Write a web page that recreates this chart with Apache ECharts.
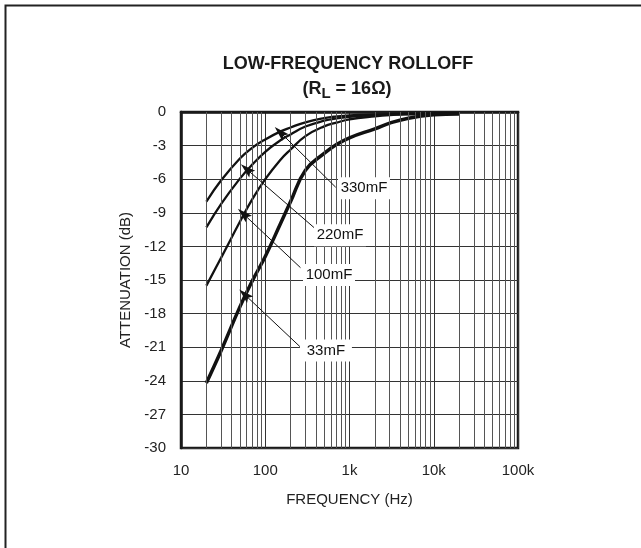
<!DOCTYPE html>
<html>
<head>
<meta charset="utf-8">
<script src="https://cdn.jsdelivr.net/npm/echarts@6/dist/echarts.min.js"></script>
<style>
html,body{margin:0;padding:0;background:#fff;}
#c{width:641px;height:548px;}
</style>
</head>
<body>
<div id="c"></div>
<script>
// ---- data ----
var freqs = [20, 30, 50, 70, 100, 150, 200, 300, 500, 700, 1000, 2000, 3000, 5000, 10000, 20000];
var c330 = [-8.0, -6.1, -4.15, -3.2, -2.45, -1.75, -1.38, -0.92, -0.55, -0.4, -0.3, -0.22, -0.19, -0.17, -0.16, -0.15];
var c220 = [-10.3, -8.2, -5.95, -4.7, -3.55, -2.55, -2.0, -1.3, -0.78, -0.57, -0.43, -0.26, -0.21, -0.18, -0.16, -0.15];
var c100 = [-15.5, -13.0, -9.8, -7.8, -6.0, -4.3, -3.35, -2.15, -1.28, -0.95, -0.66, -0.38, -0.27, -0.21, -0.17, -0.15];
var c33  = [-24.2, -21.3, -17.4, -15.1, -12.9, -10.05, -8.0, -5.2, -3.7, -2.9, -2.3, -1.5, -1.0, -0.55, -0.25, -0.18];
var seriesNames = ['330mF', '220mF', '100mF', '33mF'];
var xTickLabels = ['10', '100', '1k', '10k', '100k'];
var minorFreqs = [20,30,40,50,60,70,80,90, 200,300,400,500,600,700,800,900,
                  2000,3000,4000,5000,6000,7000,8000,9000, 20000,30000,40000,50000,60000,70000,80000,90000];

var FONT = '"Liberation Sans", Arial, sans-serif';
var chart = echarts.init(document.getElementById('c'), null, {renderer: 'canvas'});

function pairs(vals) { return freqs.map(function (f, i) { return [f, vals[i]]; }); }

// annotation placement (data coordinates): label centre, arrow start, arrow tip
var notes = {
  '330mF': {label: [1486, -6.8], from: [686, -6.72], to: [150, -1.8]},
  '220mF': {label: [771, -11.0], from: [390, -10.4], to: [60, -5.1]},
  '100mF': {label: [571, -14.55], from: [262, -13.9], to: [55, -9.1]},
  '33mF':  {label: [525, -21.3], from: [271, -21.1], to: [57, -16.3]}
};

var curveData = [c330, c220, c100, c33];
var series = [{
  name: 'minorgrid', type: 'line', data: [], z: 1, silent: true,
  markLine: {
    silent: true, symbol: 'none', animation: false,
    label: {show: false},
    lineStyle: {color: '#555', width: 1, type: 'solid'},
    data: minorFreqs.map(function (f) { return {xAxis: f}; })
  }
}];
seriesNames.forEach(function (nm, i) {
  var n = notes[nm];
  series.push({
    name: nm, type: 'line', data: pairs(curveData[i]), z: 3,
    showSymbol: false, symbol: 'none', smooth: 0.45, animation: false,
    lineStyle: {color: '#111', width: nm === '33mF' ? 3.5 : 2.3},
    markLine: {
      silent: true, animation: false,
      symbol: ['none', 'path://M5,0 L10,16 L5,13 L0,16 Z'], symbolSize: [9, 15],
      label: {show: false},
      itemStyle: {color: '#111'},
      lineStyle: {color: '#111', width: 1, type: 'solid'},
      data: [[{coord: n.from}, {coord: n.to}]]
    },
    markPoint: {
      silent: true, animation: false, symbol: 'rect', symbolSize: [52, 22],
      itemStyle: {color: '#fff'},
      label: {show: true, position: 'inside', formatter: nm, color: '#111', fontSize: 15, fontFamily: FONT},
      data: [{coord: n.label}]
    }
  });
});

chart.setOption({
  animation: false,
  backgroundColor: '#fff',
  grid: {left: 181, top: 112, width: 337, height: 336, show: true, borderColor: '#1a1a1a', borderWidth: 2.5, backgroundColor: 'transparent'},
  xAxis: {
    type: 'log', logBase: 10, min: 10, max: 100000,
    name: 'FREQUENCY (Hz)', nameLocation: 'middle', nameGap: 44,
    nameTextStyle: {fontSize: 15, color: '#222', fontFamily: FONT},
    axisLine: {show: true, lineStyle: {color: '#1a1a1a', width: 2.5}},
    axisTick: {show: false},
    minorTick: {show: false},
    axisLabel: {margin: 15, fontSize: 15, color: '#222', fontFamily: FONT,
      formatter: function (v) { var k = Math.round(Math.log10(v)) - 1; return xTickLabels[k] || ''; }},
    splitLine: {show: true, lineStyle: {color: '#333', width: 1}}
  },
  yAxis: {
    type: 'value', min: -30, max: 0, interval: 3,
    name: 'ATTENUATION (dB)', nameLocation: 'middle', nameGap: 46, nameRotate: 90,
    nameTextStyle: {fontSize: 15, color: '#222', fontFamily: FONT},
    axisLine: {show: true, lineStyle: {color: '#1a1a1a', width: 2.5}},
    axisTick: {show: false},
    axisLabel: {margin: 15, fontSize: 15, color: '#222', fontFamily: FONT},
    splitLine: {show: true, lineStyle: {color: '#333', width: 1}}
  },
  graphic: [
    {type: 'rect', silent: true, shape: {x: 5.5, y: 5.5, width: 700, height: 700},
     style: {fill: null, stroke: '#222', lineWidth: 2}},
    {type: 'text', silent: true, x: 348, y: 55,
     style: {text: 'LOW-FREQUENCY ROLLOFF', fill: '#1a1a1a', font: 'bold 18px "Liberation Sans", Arial, sans-serif', textAlign: 'center'}},
    {type: 'text', silent: true, x: 347, y: 78,
     style: {text: '{a|(R}{s|L}{a| = 16Ω)}', textAlign: 'center', fill: '#1a1a1a',
       rich: {
         a: {font: 'bold 18px "Liberation Sans", Arial, sans-serif', fill: '#1a1a1a', lineHeight: 22},
         s: {font: 'bold 15px "Liberation Sans", Arial, sans-serif', fill: '#1a1a1a', padding: [10, 0, 0, 0], lineHeight: 22}
       }}}
  ],
  series: series
});
</script>
</body>
</html>
